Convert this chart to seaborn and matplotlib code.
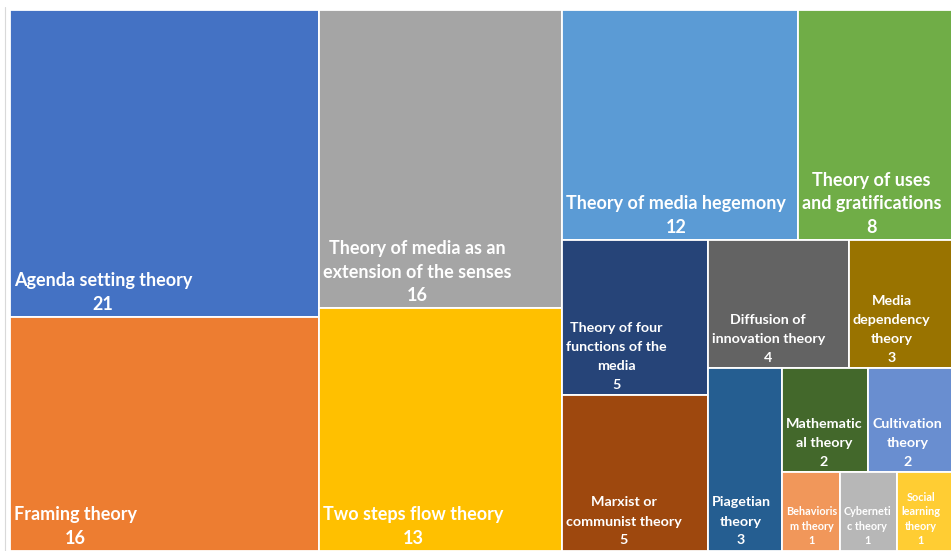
import matplotlib
matplotlib.use("Agg")
import matplotlib.pyplot as plt
import seaborn as sns
from matplotlib.patches import Rectangle
from matplotlib.lines import Line2D

# Datos del treemap (ordenados de mayor a menor)
theories = [
    "Agenda setting theory",
    "Framing theory",
    "Theory of media as an\nextension of the senses",
    "Two steps flow theory",
    "Theory of media hegemony",
    "Theory of uses\nand gratifications",
    "Theory of four\nfunctions of the\nmedia",
    "Marxist or\ncommunist theory",
    "Diffusion of\ninnovation theory",
    "Media\ndependency\ntheory",
    "Piagetian\ntheory",
    "Mathematic\nal theory",
    "Cultivation\ntheory",
    "Behavioris\nm theory",
    "Cyberneti\nc theory",
    "Social\nlearning\ntheory",
]
counts = [21, 16, 16, 13, 12, 8, 5, 5, 4, 3, 3, 2, 2, 1, 1, 1]
colors = [
    "#4472C4", "#ED7D31", "#A5A5A5", "#FFC000", "#5B9BD5", "#70AD47",
    "#264478", "#9E480E", "#636363", "#997300", "#255E91", "#43682B",
    "#698ED0", "#F1975A", "#B7B7B7", "#FFCD33",
]

# numero de casillas por franja (como lo agrupa Excel)
strip_sizes = [2, 2, 2, 2, 2, 1, 2, 1, 1, 1]


def treemap_rects(values, strips, x, y, w, h):
    rects = []
    i = 0
    for n in strips:
        group = values[i:i + n]
        frac = sum(group) / sum(values[i:])
        if w >= h:
            # franja vertical a la izquierda
            cw = w * frac
            yy = y
            for v in group:
                rh = h * v / sum(group)
                rects.append((x, yy, cw, rh))
                yy += rh
            x += cw
            w -= cw
        else:
            # franja horizontal arriba
            rh = h * frac
            xx = x
            for v in group:
                rw = w * v / sum(group)
                rects.append((xx, y, rw, rh))
                xx += rw
            y += rh
            h -= rh
        i += n
    return rects


sns.set_theme(style="white")
plt.rcParams["font.family"] = ["Lato", "DejaVu Sans"]

fig = plt.figure(figsize=(9.51, 5.51), dpi=100)
W, H = 945.0, 541.0
ax = fig.add_axes([10 / 951, 0.5 / 551, W / 951, H / 551])
ax.set_xlim(0, W)
ax.set_ylim(H, 0)
ax.axis("off")

rects = treemap_rects(counts, strip_sizes, 0, 0, W, H)

for (x, y, w, h), name, val, col in zip(rects, theories, counts, colors):
    ax.add_patch(Rectangle((x, y), w, h, facecolor=col, edgecolor="white", linewidth=1.3))
    if val >= 8:
        fs, ls = 13, 1.45
    elif val >= 2:
        fs, ls = 10.3, 1.7
    else:
        fs, ls = 7.8, 1.4
    ax.text(x + 4, y + h - 4, f"{name}\n{val}", ha="left", va="bottom",
            multialignment="center", color="white", fontweight="bold",
            fontsize=fs, linespacing=ls, clip_on=True)

# borde del area del grafico
fig.add_artist(Line2D([4.5 / 951, 4.5 / 951], [0, 1 - 7 / 551], color="#d9d9d9", lw=0.8))

fig.savefig("out.png", dpi=100, facecolor="white")
